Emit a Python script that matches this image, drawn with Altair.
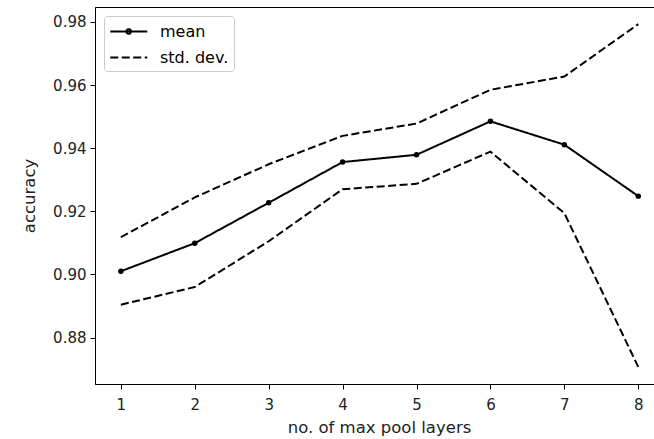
import altair as alt
import pandas as pd

# ---- data ----
layers = [1, 2, 3, 4, 5, 6, 7, 8]
mean_acc = [0.9010, 0.9099, 0.9227, 0.9356, 0.9379, 0.9485, 0.9411, 0.9248]
upper_acc = [0.9118, 0.9244, 0.9349, 0.9439, 0.9478, 0.9585, 0.9627, 0.9793]
lower_acc = [0.8904, 0.8960, 0.9105, 0.9270, 0.9287, 0.9389, 0.9194, 0.8707]
y_ticks = [0.88, 0.90, 0.92, 0.94, 0.96, 0.98]
series_names = ["mean", "std. dev."]

rows = []
for i, x in enumerate(layers):
    rows.append({"layers": x, "acc": mean_acc[i], "series": "mean", "group": "mean"})
    rows.append({"layers": x, "acc": upper_acc[i], "series": "std. dev.", "group": "upper"})
    rows.append({"layers": x, "acc": lower_acc[i], "series": "std. dev.", "group": "lower"})
df = pd.DataFrame(rows)

lo, hi = min(lower_acc), max(upper_acc)
pad = 0.05 * (hi - lo)
y_dom = [lo - pad, hi + pad]
x_dom = [1 - 0.05 * 7, 8.213]

FONT = "DejaVu Sans"

x_enc = alt.X(
    "layers:Q",
    scale=alt.Scale(domain=x_dom, nice=False, zero=False),
    axis=alt.Axis(values=layers, format="d", title="no. of max pool layers",
                  titleX=284, titleAlign="center"),
)
y_enc = alt.Y(
    "acc:Q",
    scale=alt.Scale(domain=y_dom, nice=False, zero=False),
    axis=alt.Axis(values=y_ticks, format=".2f", title="accuracy"),
)

legend_def = alt.Legend(
    orient="top-left", offset=9, fillColor="white", strokeColor="#cccccc",
    cornerRadius=3, padding=5, symbolType="M-1,0H3", symbolSize=342,
    symbolStrokeWidth=2, symbolStrokeColor="black", symbolFillColor="black",
    symbolOpacity=1, labelFontSize=16, labelFont=FONT, labelColor="black",
    labelOffset=30, rowPadding=7,
)

LINE_PATH = "M-1,0H3"
MEAN_PATH = "M-1,0H3M0.75,0A0.25,0.25,0,1,1,1.25,0A0.25,0.25,0,1,1,0.75,0"

base = alt.Chart(df)

lines = base.mark_line(color="black", strokeWidth=2).encode(
    x=x_enc,
    y=y_enc,
    detail="group:N",
    strokeDash=alt.StrokeDash(
        "series:N",
        title=None,
        scale=alt.Scale(domain=series_names, range=[[1, 0], [8, 3.5]]),
        legend=legend_def,
    ),
)

points = base.transform_filter(alt.datum.series == "mean").mark_point(
    filled=True, color="black", size=30, opacity=1
).encode(x=x_enc, y=y_enc)

# empty layer carrying only the legend symbol shapes
legend_shapes = base.transform_filter("false").mark_point(
    filled=False, color="black", strokeWidth=2, opacity=1
).encode(
    x=x_enc,
    y=y_enc,
    shape=alt.Shape(
        "series:N",
        title=None,
        scale=alt.Scale(domain=series_names, range=[MEAN_PATH, LINE_PATH]),
        legend=legend_def,
    ),
)

chart = (
    alt.layer(lines, points, legend_shapes)
    .properties(
        width=559, height=377,
        autosize=alt.AutoSizeParams(type="none"),
        padding={"left": 95, "top": 7, "right": 0, "bottom": 55},
        background="white",
    )
    .configure_view(stroke="black", strokeWidth=1)
    .configure_axis(
        grid=False, domainColor="black", tickColor="black", tickSize=5,
        labelFont=FONT, labelFontSize=15, labelColor="#222222", labelPadding=4,
        titleFont=FONT, titleFontSize=16.5, titleFontWeight="normal", titleColor="#222222",
        domainWidth=1, tickWidth=1,
    )
    .configure_axisX(labelPadding=8, titlePadding=7)
    .configure_axisY(titlePadding=15)
)

chart.save("out.html", embed_options={"renderer": "svg", "actions": False})
